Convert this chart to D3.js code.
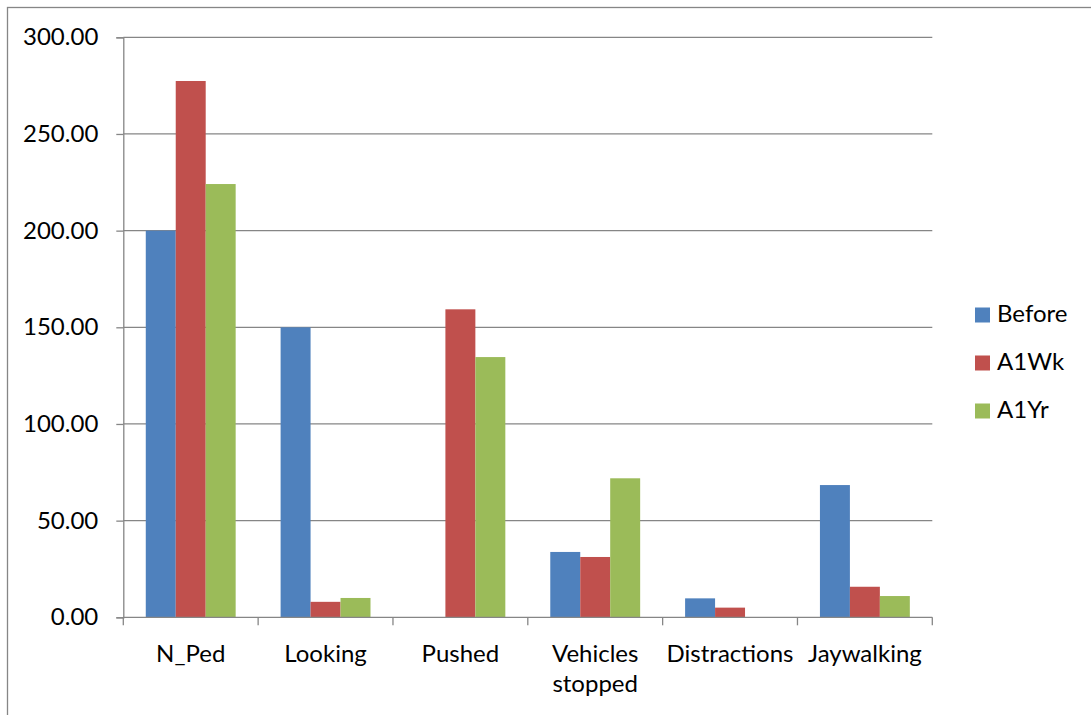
<!DOCTYPE html>
<html>
<head>
<meta charset="utf-8">
<script src="https://cdn.jsdelivr.net/npm/d3@7"></script>
<style>
  html, body { margin: 0; padding: 0; background: #fff; }
  svg { display: block; }
  text { font-family: Lato, "Open Sans", sans-serif; fill: #000; }
</style>
</head>
<body>
<svg id="chart" width="1091" height="715"></svg>
<script>
// Pedestrian behaviour counts, per category and observation period
const categories = ["N_Ped", "Looking", "Pushed", "Vehicles\nstopped", "Distractions", "Jaywalking"];
const seriesNames = ["Before", "A1Wk", "A1Yr"];
const before = [200.0, 150.0, 0.0, 33.8, 9.8, 68.4];
const a1wk   = [277.4, 8.0, 159.3, 31.2, 5.0, 15.8];
const a1yr   = [224.1, 10.0, 134.6, 71.9, 0.0, 11.0];
const yTicks = [0, 50, 100, 150, 200, 250, 300];
const colors = ["#4F81BD", "#C0504D", "#9BBB59"];

const seriesValues = [before, a1wk, a1yr];

const svg = d3.select("#chart");
const W = 1091, H = 715;
const plot = { left: 123.3, right: 932.3, top: 37.3, bottom: 617.3 };
const gridColor = "#868686";
const fontSize = 24;

// Outer chart-area frame (runs off the right and bottom edges)
svg.append("rect")
  .attr("x", 7.5).attr("y", 7.5)
  .attr("width", W + 20).attr("height", H + 20)
  .attr("fill", "none").attr("stroke", gridColor).attr("stroke-width", 1.3);

const x = d3.scaleBand()
  .domain(categories)
  .range([plot.left, plot.right])
  .paddingInner(1 / 3)
  .paddingOuter(1 / 6);

const xs = d3.scaleBand()
  .domain(seriesNames)
  .range([0, x.bandwidth()]);

const y = d3.scaleLinear().domain([0, 300]).range([plot.bottom, plot.top]);

// Horizontal gridlines
svg.append("g")
  .selectAll("line")
  .data(yTicks.filter(d => d > 0))
  .join("line")
  .attr("x1", plot.left).attr("x2", plot.right)
  .attr("y1", d => y(d)).attr("y2", d => y(d))
  .attr("stroke", gridColor).attr("stroke-width", 1.3);

// Bars
const groups = svg.append("g")
  .selectAll("g")
  .data(categories)
  .join("g")
  .attr("transform", c => `translate(${x(c)},0)`);

groups.selectAll("rect")
  .data((c, i) => seriesNames.map((s, j) => ({ s, j, v: seriesValues[j][i] })))
  .join("rect")
  .filter(d => d.v > 0)
  .attr("x", d => xs(d.s))
  .attr("width", xs.bandwidth())
  .attr("y", d => y(d.v))
  .attr("height", d => y(0) - y(d.v))
  .attr("fill", d => colors[d.j]);

// Y axis
const yAxis = d3.axisLeft(y)
  .tickValues(yTicks)
  .tickSize(7)
  .tickPadding(18)
  .tickFormat(d3.format(".2f"));

const yG = svg.append("g")
  .attr("transform", `translate(${plot.left},0)`)
  .call(yAxis);
yG.select(".domain").attr("stroke", gridColor).attr("stroke-width", 1.3);
yG.selectAll(".tick line").attr("stroke", gridColor).attr("stroke-width", 1.3);
yG.selectAll(".tick text")
  .attr("font-size", fontSize)
  .attr("font-family", "Lato, 'Open Sans', sans-serif")
  .attr("fill", "#000");

// X axis: baseline with ticks at category boundaries
const xG = svg.append("g");
xG.append("line")
  .attr("x1", plot.left).attr("x2", plot.right)
  .attr("y1", plot.bottom).attr("y2", plot.bottom)
  .attr("stroke", gridColor).attr("stroke-width", 1.3);

const step = x.step();
const boundaries = d3.range(categories.length + 1).map(i => plot.left + i * step);
xG.selectAll("line.tick")
  .data(boundaries)
  .join("line")
  .attr("class", "tick")
  .attr("x1", d => d).attr("x2", d => d)
  .attr("y1", plot.bottom).attr("y2", plot.bottom + 8)
  .attr("stroke", gridColor).attr("stroke-width", 1.3);

// Category labels (may wrap onto two lines)
xG.selectAll("text.cat")
  .data(categories)
  .join("text")
  .attr("class", "cat")
  .attr("x", c => x(c) + x.bandwidth() / 2)
  .attr("y", 661.5)
  .attr("text-anchor", "middle")
  .attr("font-size", fontSize)
  .each(function (c) {
    const lines = c.split("\n");
    d3.select(this).selectAll("tspan")
      .data(lines)
      .join("tspan")
      .attr("x", x(c) + x.bandwidth() / 2)
      .attr("dy", (d, i) => i === 0 ? 0 : 30.5)
      .text(d => d);
  });

// Legend
const legend = svg.append("g")
  .selectAll("g")
  .data(seriesNames)
  .join("g")
  .attr("transform", (d, i) => `translate(975,${307.5 + i * 48})`);

legend.append("rect")
  .attr("width", 15).attr("height", 15)
  .attr("fill", (d, i) => colors[i]);

legend.append("text")
  .attr("x", 22)
  .attr("y", 14.5)
  .attr("font-size", fontSize)
  .text(d => d);
</script>
</body>
</html>
